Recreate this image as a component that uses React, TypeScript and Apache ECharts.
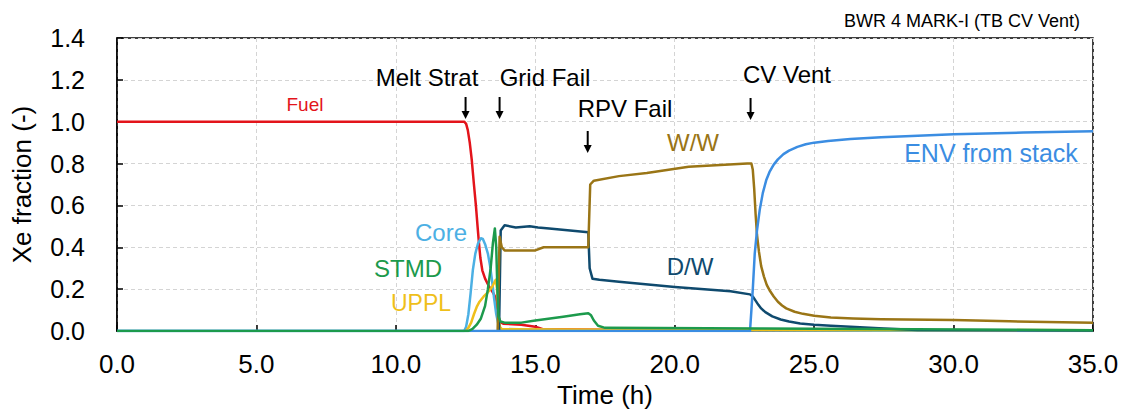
import React, { useEffect, useRef } from "react";
import * as echarts from "echarts";

// ---- data (time h, Xe fraction) ----
const fuel: [number, number][] = [
  [0, 1.0], [12.45, 1.0], [12.52, 0.99], [12.58, 0.96], [12.65, 0.9], [12.72, 0.82], [12.8, 0.7],
  [12.87, 0.6], [12.93, 0.5], [12.98, 0.42], [13.03, 0.35], [13.1, 0.29], [13.2, 0.25],
  [13.35, 0.21], [13.5, 0.18], [13.6, 0.15], [13.66, 0.08], [13.72, 0.045], [13.85, 0.035],
  [14.5, 0.03], [15.0, 0.02], [15.3, 0.008], [20, 0.004], [35, 0.003],
];
const core: [number, number][] = [
  [0, 0], [12.45, 0], [12.52, 0.02], [12.6, 0.08], [12.68, 0.18], [12.76, 0.29], [12.85, 0.37],
  [12.95, 0.42], [13.05, 0.443], [13.12, 0.44], [13.2, 0.415], [13.3, 0.37], [13.38, 0.31],
  [13.45, 0.24], [13.52, 0.16], [13.6, 0.08], [13.68, 0.03], [13.75, 0.01], [16, 0.003], [35, 0],
];
const uppl: [number, number][] = [
  [12.5, 0], [12.6, 0.015], [12.7, 0.04], [12.8, 0.08], [12.9, 0.115], [13.0, 0.14],
  [13.15, 0.165], [13.3, 0.185], [13.45, 0.21], [13.58, 0.245], [13.63, 0.2], [13.68, 0.08],
  [13.73, 0.02], [13.8, 0.008], [20, 0.005], [35, 0.004],
];
const stmd: [number, number][] = [
  [0, 0], [12.6, 0], [12.75, 0.01], [12.9, 0.03], [13.05, 0.06], [13.2, 0.12], [13.3, 0.2],
  [13.4, 0.3], [13.48, 0.42], [13.55, 0.49], [13.6, 0.4], [13.64, 0.2], [13.68, 0.07],
  [13.75, 0.045], [13.9, 0.04], [14.5, 0.04], [15, 0.05], [16, 0.068], [16.6, 0.08],
  [16.9, 0.085], [17.0, 0.075], [17.1, 0.05], [17.25, 0.025], [17.5, 0.015], [23, 0.012],
  [35, 0.004],
];
const dw: [number, number][] = [
  [13.7, 0], [13.76, 0.48], [13.9, 0.505], [14.3, 0.495], [14.8, 0.5], [15.1, 0.495],
  [15.5, 0.49], [16.9, 0.472], [16.95, 0.3], [17.05, 0.25], [17.3, 0.245], [18, 0.235],
  [20, 0.21], [22, 0.19], [22.7, 0.175], [22.8, 0.165], [22.9, 0.145], [23.0, 0.125],
  [23.1, 0.108], [23.25, 0.09], [23.5, 0.07], [23.8, 0.055], [24.1, 0.045], [24.5, 0.036],
  [25, 0.03], [25.6, 0.025], [26.3, 0.02], [27.5, 0.012], [28.7, 0.005], [35, 0.002],
];
const ww: [number, number][] = [
  [13.65, 0], [13.72, 0.45], [13.8, 0.4], [13.9, 0.385], [15.0, 0.385], [15.3, 0.4],
  [16.9, 0.4], [16.97, 0.7], [17.1, 0.718], [18, 0.74], [19, 0.755], [20.5, 0.785],
  [22.6, 0.8], [22.75, 0.8], [22.8, 0.77], [22.85, 0.68], [22.9, 0.56], [22.95, 0.46],
  [23.02, 0.38], [23.1, 0.31], [23.2, 0.26], [23.3, 0.22], [23.4, 0.195], [23.55, 0.165],
  [23.7, 0.14], [23.85, 0.122], [24.0, 0.108], [24.3, 0.092], [24.6, 0.082], [25, 0.073],
  [25.6, 0.065], [26.4, 0.06], [27.4, 0.056], [30, 0.052], [32, 0.046], [35, 0.04],
];
const env: [number, number][] = [
  [0, 0], [22.7, 0], [22.75, 0.1], [22.8, 0.2], [22.87, 0.37], [22.95, 0.48], [23.05, 0.58],
  [23.16, 0.66], [23.28, 0.72], [23.4, 0.76], [23.55, 0.795], [23.7, 0.82], [23.9, 0.845],
  [24.1, 0.862], [24.4, 0.88], [24.7, 0.892], [25, 0.9], [25.5, 0.908], [26.3, 0.917],
  [27.4, 0.926], [28.5, 0.932], [30, 0.94], [32.5, 0.948], [35, 0.955],
];

const eventNames = ["Melt Strat", "Grid Fail", "RPV Fail", "CV Vent"];
const eventTimes = [12.5, 13.72, 16.88, 22.72];

const COLORS = {
  fuel: "#e3141b",
  core: "#4cb0e4",
  stmd: "#1c9a4c",
  uppl: "#efbf1a",
  ww: "#9a7516",
  dw: "#0f4a6e",
  env: "#3b8de2",
};

const FONT = "Liberation Sans, Arial, sans-serif";

export default function App() {
  const ref = useRef<HTMLDivElement>(null);
  useEffect(() => {
    document.body.style.margin = "0";
    const chart = echarts.init(ref.current!, null, { renderer: "svg" });
    const mk = (name: string, data: [number, number][], color: string) => ({
      name,
      type: "line",
      data,
      showSymbol: false,
      smooth: false,
      lineStyle: { color, width: 2.5, join: "round" },
      itemStyle: { color },
    });
    chart.setOption({
      animation: false,
      textStyle: { fontFamily: FONT },
      grid: {
        left: 117, right: 33, top: 38, bottom: 85,
        show: true, borderColor: "#000", borderWidth: 1.5, backgroundColor: "transparent",
      },
      xAxis: {
        type: "value", min: 0, max: 35, interval: 5,
        name: "Time (h)", nameLocation: "middle", nameGap: 48,
        nameTextStyle: { fontSize: 26, color: "#000", fontFamily: FONT },
        axisLine: { show: true, lineStyle: { color: "#000", width: 1.5 } },
        axisTick: { show: true, inside: true, length: 6, lineStyle: { color: "#000", width: 1.5 } },
        axisLabel: { fontSize: 26, color: "#000", margin: 20, fontFamily: FONT,
          formatter: (v: number) => v.toFixed(1) },
        splitLine: { show: true, lineStyle: { color: "#d4d4d4", type: [4, 3], width: 1 } },
      },
      yAxis: {
        type: "value", min: 0, max: 1.4, interval: 0.2,
        name: "Xe fraction (-)", nameLocation: "middle", nameGap: 82,
        nameTextStyle: { fontSize: 26, color: "#000", fontFamily: FONT },
        axisLine: { show: true, lineStyle: { color: "#000", width: 1.5 } },
        axisTick: { show: true, inside: true, length: 6, lineStyle: { color: "#000", width: 1.5 } },
        axisLabel: { fontSize: 25, color: "#000", margin: 32, fontFamily: FONT,
          formatter: (v: number) => v.toFixed(1) },
        splitLine: { show: true, lineStyle: { color: "#d4d4d4", type: [4, 3], width: 1 } },
      },
      series: [
        mk("Fuel", fuel, COLORS.fuel),
        mk("Core", core, COLORS.core),
        mk("UPPL", uppl, COLORS.uppl),
        mk("D/W", dw, COLORS.dw),
        mk("W/W", ww, COLORS.ww),
        mk("ENV from stack", env, COLORS.env),
        mk("STMD", stmd, COLORS.stmd),
      ],
    });

    const arrowTop = [97, 97, 131, 98];
    const labelPos: [number, number][] = [[427, 77], [545, 77], [625, 108], [787, 74]];
    const g: any[] = [];
    eventTimes.forEach((t, i) => {
      const x = chart.convertToPixel({ gridIndex: 0 }, [t, 0])[0];
      const y0 = arrowTop[i];
      const y1 = y0 + 22;
      g.push({ type: "line", shape: { x1: x, y1: y0, x2: x, y2: y1 - 6 }, style: { stroke: "#000", lineWidth: 2 } });
      g.push({ type: "polygon", shape: { points: [[x - 4, y1 - 8], [x + 4, y1 - 8], [x, y1]] }, style: { fill: "#000" } });
      g.push({ type: "text", x: labelPos[i][0], y: labelPos[i][1],
        style: { text: eventNames[i], fill: "#000", font: `24px ${FONT}`, align: "center", verticalAlign: "middle" } });
    });
    const seriesLabels: [string, number, number, string, number][] = [
      ["Fuel", 305, 104, COLORS.fuel, 19],
      ["Core", 441, 232, COLORS.core, 24],
      ["STMD", 408, 268, COLORS.stmd, 24],
      ["UPPL", 421, 303, COLORS.uppl, 23],
      ["W/W", 693, 142, COLORS.ww, 24],
      ["D/W", 690, 266, COLORS.dw, 24],
      ["ENV from stack", 991, 153, COLORS.env, 25],
    ];
    seriesLabels.forEach(([t, x, y, c, s]) => {
      g.push({ type: "text", x, y,
        style: { text: t, fill: c, font: `${s}px ${FONT}`, align: "center", verticalAlign: "middle" } });
    });
    g.push({ type: "text", x: 1080, y: 21,
      style: { text: "BWR 4 MARK-I (TB CV Vent)", fill: "#000", font: `18px ${FONT}`, align: "right", verticalAlign: "middle" } });
    chart.setOption({ graphic: g });

    return () => chart.dispose();
  }, []);
  return <div ref={ref} style={{ width: 1126, height: 416 }} />;
}
